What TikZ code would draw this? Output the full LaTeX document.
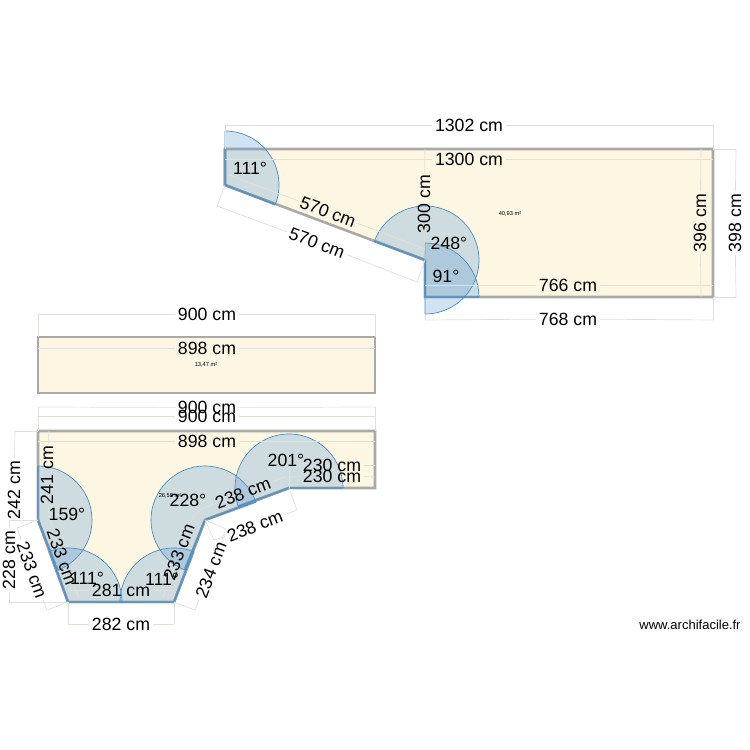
\documentclass[tikz,border=0pt]{standalone}
\usepackage{fontspec}
\setmainfont{Liberation Sans}
\definecolor{roomfill}{HTML}{FDF6E3}
\definecolor{wallgray}{HTML}{A9A9A9}
\definecolor{doorblue}{HTML}{5B9BD5}
\definecolor{dooredge}{HTML}{4A8CC2}
\definecolor{doorwallblue}{HTML}{7F9AB3}
\definecolor{dimgray}{HTML}{E0E0DC}
\tikzset{
  room/.style={fill=roomfill,draw=wallgray,line width=2.6bp},
  door/.style={fill=doorblue,fill opacity=0.28,draw=dooredge,line width=0.7bp,line join=round},
  doorwall/.style={draw=doorwallblue,line width=2.6bp},
  dimline/.style={draw=dimgray,line width=0.7bp},
  dimlabel/.style={font=\fontsize{17.7bp}{18bp}\selectfont,inner sep=2.5bp},
  anglelabel/.style={font=\fontsize{17.7bp}{18bp}\selectfont,inner sep=0pt},
  arealabel/.style={font=\fontsize{5.7bp}{6bp}\selectfont,inner sep=0pt}
}
% one dimension: name, position, rotation, text, two ends
\newcommand{\dimension}[5]{%
  \node[dimlabel,rotate=#3] (#1) at (#2) {#4};
  \foreach \tip in {#5} {\draw[dimline] (#1) -- (\tip);}
}
\begin{document}
\begin{tikzpicture}[x=1bp,y=1bp]
  \useasboundingbox (0,0) rectangle (750,750);
  % rooms
  \coordinate (A) at (225,601);
  \coordinate (B) at (713,601);
  \coordinate (C) at (713,453);
  \coordinate (D) at (425,453);
  \coordinate (E) at (425,490);
  \coordinate (F) at (225,565);
  \draw[room] (A) -- (B) -- (C) -- (D) -- (E) -- (F) -- cycle;
  \coordinate (G) at (38,413);
  \coordinate (H) at (375,413);
  \coordinate (I) at (375,357);
  \coordinate (J) at (38,357);
  \draw[room] (G) -- (H) -- (I) -- (J) -- cycle;
  \coordinate (K) at (38,319);
  \coordinate (L) at (375,319);
  \coordinate (M) at (375,262);
  \coordinate (N) at (289,262);
  \coordinate (O) at (205,230);
  \coordinate (P) at (174,148);
  \coordinate (Q) at (68,148);
  \coordinate (R) at (38,230);
  \draw[room] (K) -- (L) -- (M) -- (N) -- (O) -- (P) -- (Q) -- (R) -- cycle;
  % doors
  \draw[doorwall] (A) -- (F) -- ++(-21:54);
  \draw[doorwall] (E) -- ++(159.5:54);
  \draw[doorwall] (E) -- (D) -- ++(0:54);
  \draw[doorwall] (R) -- ++(90:54);
  \draw[doorwall] (R) -- ++(-69:54);
  \draw[doorwall] (Q) -- ++(110:54);
  \draw[doorwall] (Q) -- ++(0:54);
  \draw[doorwall] (P) -- ++(180:54);
  \draw[doorwall] (P) -- ++(69:54);
  \draw[doorwall] (O) -- ++(248:54);
  \draw[doorwall] (O) -- ++(20:54);
  \draw[doorwall] (N) -- ++(200:54);
  \draw[doorwall] (N) -- ++(0:54);
  \filldraw[door] (F) -- ++(90:54) arc (90:-21:54) -- cycle;
  \filldraw[door] (E) -- ++(159.5:54) arc (159.5:-90:54) -- cycle;
  \filldraw[door] (D) -- ++(90:54) arc (90:0:54) -- cycle;
  \filldraw[door] (R) -- ++(90:54) arc (90:-69:54) -- cycle;
  \filldraw[door] (Q) -- ++(110:54) arc (110:0:54) -- cycle;
  \filldraw[door] (P) -- ++(180:54) arc (180:69:54) -- cycle;
  \filldraw[door] (O) -- ++(248:54) arc (248:20:54) -- cycle;
  \filldraw[door] (N) -- ++(200:54) arc (200:0:54) -- cycle;
  % extension lines
  \draw[dimline] (A) -- (225,625) (B) -- (713,625);
  \draw[dimline] (425,435) -- (425,430) (C) -- (713,430);
  \draw[dimline] (B) -- (736,601) (C) -- (736,453);
  \draw[dimline] (F) -- (217,544) (E) -- (417,468);
  \draw[dimline] (G) -- (38,436) (H) -- (375,436);
  \draw[dimline] (K) -- (38,343) (L) -- (375,343);
  \draw[dimline] (K) -- (15,319) (R) -- (15,230);
  \draw[dimline] (R) -- (17,222) (Q) -- (47,140);
  \draw[dimline] (Q) -- (9,148) (R) -- (9,230);
  \draw[dimline] (Q) -- (68,126) (P) -- (174,126);
  \draw[dimline] (P) -- (195,140) (O) -- (226,221);
  \draw[dimline] (O) -- (214,210) (N) -- (297,240);
  \draw[dimline] (194,234) -- (201,241);
  \draw[dimline] (N) -- (289,285);
  % dimensions
  \coordinate (a1) at (225,625);
  \coordinate (a2) at (713,625);
  \dimension{d1302}{469,625}{0}{1302 cm}{a1,a2}
  \coordinate (b1) at (225,591);
  \coordinate (b2) at (713,591);
  \dimension{d1300}{469,591}{0}{1300 cm}{b1,b2}
  \coordinate (c1) at (229,575);
  \coordinate (c2) at (425,501);
  \dimension{d570a}{328,538}{-21}{570 cm}{c1,c2}
  \coordinate (c3) at (217,544);
  \coordinate (c4) at (417,468);
  \dimension{d570b}{317,507}{-21}{570 cm}{c3,c4}
  \coordinate (e1) at (425,601);
  \coordinate (e2) at (425,490);
  \dimension{d300}{424,546}{90}{300 cm}{e1,e2}
  \coordinate (f1) at (425,465);
  \coordinate (f2) at (713,465);
  \dimension{d766}{568,465}{0}{766 cm}{f1,f2}
  \coordinate (f3) at (425,430);
  \coordinate (f4) at (713,430);
  \dimension{d768}{568,431}{0}{768 cm}{f3,f4}
  \coordinate (g1) at (701,601);
  \coordinate (g2) at (701,453);
  \dimension{d396}{700,527}{90}{396 cm}{g1,g2}
  \coordinate (g3) at (736,601);
  \coordinate (g4) at (736,453);
  \dimension{d398}{735,527}{90}{398 cm}{g3,g4}
  \coordinate (h1) at (38,436);
  \coordinate (h2) at (375,436);
  \dimension{d900a}{207,436}{0}{900 cm}{h1,h2}
  \coordinate (h3) at (38,402);
  \coordinate (h4) at (375,402);
  \dimension{d898a}{207,402}{0}{898 cm}{h3,h4}
  \coordinate (i1) at (38,343);
  \coordinate (i2) at (375,343);
  \dimension{d900b}{207,342.5}{0}{900 cm}{i1,i2}
  \coordinate (i3) at (38,334);
  \coordinate (i4) at (375,334);
  \dimension{d900c}{207,334}{0}{900 cm}{i3,i4}
  \coordinate (j1) at (38,309);
  \coordinate (j2) at (375,309);
  \dimension{d898b}{207,309}{0}{898 cm}{j1,j2}
  \coordinate (k1) at (15,319);
  \coordinate (k2) at (15,230);
  \dimension{d242}{14,260}{90}{242 cm}{k1,k2}
  \coordinate (k3) at (49,319);
  \coordinate (k4) at (49,230);
  \dimension{d241}{47,275}{90}{241 cm}{k3,k4}
  \coordinate (l1) at (9,230);
  \coordinate (l2) at (9,148);
  \dimension{d228}{9,190}{90}{228 cm}{l1,l2}
  \coordinate (m1) at (17,222);
  \coordinate (m2) at (47,140);
  \dimension{d233a}{32,180}{-70}{233 cm}{m1,m2}
  \coordinate (m3) at (49,234);
  \coordinate (m4) at (79,152);
  \dimension{d233b}{62,193}{-70}{233 cm}{m3,m4}
  \coordinate (n1) at (68,160);
  \coordinate (n2) at (174,160);
  \dimension{d281}{121,160}{0}{281 cm}{n1,n2}
  \coordinate (n3) at (68,126);
  \coordinate (n4) at (174,126);
  \dimension{d282}{121,126}{0}{282 cm}{n3,n4}
  \coordinate (o1) at (163,152);
  \coordinate (o2) at (194,234);
  \dimension{d233c}{179,198}{69}{233 cm}{o1,o2}
  \coordinate (o3) at (195,140);
  \coordinate (o4) at (226,221);
  \dimension{d234}{211,180}{69}{234 cm}{o3,o4}
  \coordinate (p1) at (214,210);
  \coordinate (p2) at (297,240);
  \dimension{d238a}{255,224}{21}{238 cm}{p1,p2}
  \coordinate (p3) at (201,241);
  \coordinate (p4) at (285,273);
  \dimension{d238b}{243,257}{21}{238 cm}{p3,p4}
  \coordinate (q1) at (289,285);
  \coordinate (q2) at (375,285);
  \dimension{d230a}{332,285}{0}{230 cm}{q1,q2}
  \coordinate (q3) at (289,273);
  \coordinate (q4) at (375,273);
  \dimension{d230b}{332,274}{0}{230 cm}{q3,q4}
  % angles
  \node[anglelabel] (a111) at (250,582) {111°};
  \node[anglelabel] (a248) at (449,507) {248°};
  \node[anglelabel] (a91) at (446,474) {91°};
  \node[anglelabel] (a159) at (67,236) {159°};
  \node[anglelabel] (a111b) at (87,172) {111°};
  \node[anglelabel] (a111c) at (162,171) {111°};
  \node[anglelabel] (a228) at (188,250) {228°};
  \node[anglelabel] (a201) at (286,290) {201°};
  % areas
  \node[arealabel] (area1) at (510,536) {40,93 m²};
  \node[arealabel] (area2) at (206,385) {13,47 m²};
  \node[arealabel] (area3) at (170,254) {26,58 m²};
  \node[font=\fontsize{13bp}{14bp}\selectfont,inner sep=0pt] (brand) at (690,125) {www.archifacile.fr};
\end{tikzpicture}
\end{document}
